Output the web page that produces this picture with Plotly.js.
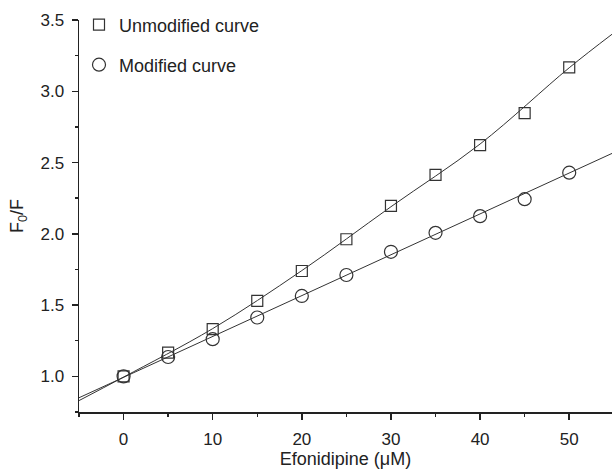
<!DOCTYPE html>
<html>
<head>
<meta charset="utf-8">
<script src="https://cdn.plot.ly/plotly-3.0.1.min.js"></script>
<style>html,body{margin:0;padding:0;background:#fff;}#chart{width:612px;height:472px;}</style>
</head>
<body>
<div id="chart"></div>
<script>
// Data
const concentration = [0, 5, 10, 15, 20, 25, 30, 35, 40, 45, 50];
const unmodified = [1.00, 1.167, 1.331, 1.529, 1.739, 1.962, 2.196, 2.413, 2.622, 2.846, 3.168];
const modified = [1.00, 1.136, 1.261, 1.413, 1.564, 1.711, 1.874, 2.007, 2.124, 2.243, 2.429];
// Fitted curves, points
const fitUnmodX = [-5, 0, 10, 20, 30, 40, 50, 54.8];
const fitUnmodY = [0.830, 0.995, 1.335, 1.742, 2.190, 2.630, 3.165, 3.400];
const fitModX = [-5, 54.8];
const fitModY = [0.850, 2.564];
const xTitle = 'Efonidipine (μM)';
const yTitle = 'F<sub>0</sub>/F';
const legendNames = ['Unmodified curve', 'Modified curve'];

const ink = '#222';
const fam = 'Liberation Sans, Arial, sans-serif';
const font = {family: fam, size: 18, color: ink};
const tickFont = {family: fam, size: 17, color: ink};

const traces = [
  {x: fitUnmodX, y: fitUnmodY, mode: 'lines', line: {color: '#333', width: 1, shape: 'spline'}, showlegend: false, hoverinfo: 'skip'},
  {x: fitModX, y: fitModY, mode: 'lines', line: {color: '#333', width: 1}, showlegend: false, hoverinfo: 'skip'},
  {x: concentration, y: unmodified, mode: 'markers', name: legendNames[0],
   marker: {symbol: 'square-open', size: 11, color: '#333', line: {width: 1.2, color: '#333'}}, legend: 'legend'},
  {x: concentration, y: modified, mode: 'markers', name: legendNames[1],
   marker: {symbol: 'circle-open', size: 13, color: '#333', line: {width: 1.2, color: '#333'}}, legend: 'legend2'}
];

const legendBase = {font: font, bgcolor: 'rgba(0,0,0,0)', borderwidth: 0, xanchor: 'left', yanchor: 'middle', xref: 'paper', yref: 'paper'};

const layout = {
  width: 612, height: 472,
  margin: {l: 79, r: 0, t: 20, b: 60},
  paper_bgcolor: '#fff', plot_bgcolor: '#fff',
  font: font,
  showlegend: true,
  legend: Object.assign({}, legendBase, {x: 0.0, y: (412 - 25) / 392}),
  legend2: Object.assign({}, legendBase, {x: 0.0, y: (412 - 65) / 392}),
  xaxis: {
    range: [-5, 54.8], tick0: 0, dtick: 10, tickmode: 'linear',
    showgrid: false, zeroline: false, showline: true, linecolor: ink, linewidth: 1.5,
    ticks: 'outside', ticklen: 6, tickwidth: 1.5, tickcolor: ink, ticklabelstandoff: 5,
    minor: {dtick: 5, tick0: 0, ticks: 'outside', ticklen: 3, tickwidth: 1.5, tickcolor: ink, showgrid: false},
    tickfont: tickFont,
    title: {text: xTitle, font: font, standoff: 4}
  },
  yaxis: {
    range: [0.75, 3.5], tick0: 0, dtick: 0.5, tickmode: 'linear', tickformat: '.1f',
    showgrid: false, zeroline: false, showline: true, linecolor: ink, linewidth: 1.5,
    ticks: 'outside', ticklen: 6, tickwidth: 1.5, tickcolor: ink, ticklabelstandoff: 4,
    minor: {dtick: 0.25, tick0: 0, ticks: 'outside', ticklen: 3, tickwidth: 1.5, tickcolor: ink, showgrid: false},
    tickfont: tickFont,
    title: {text: yTitle, font: font, standoff: 12}
  }
};

Plotly.newPlot('chart', traces, layout, {staticPlot: true, displayModeBar: false});
</script>
</body>
</html>
